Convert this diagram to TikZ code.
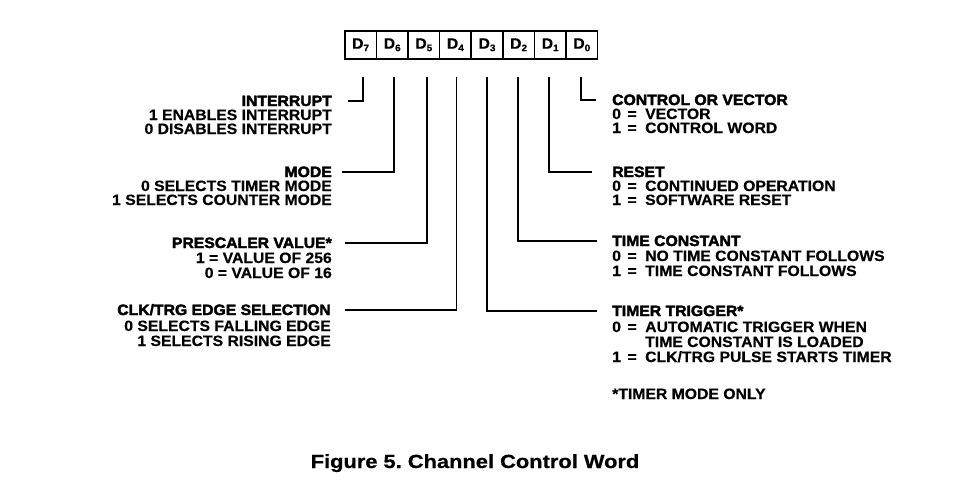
\documentclass[tikz,border=0pt]{standalone}
\usepackage{fontspec}
\setmainfont{Liberation Sans}
\frenchspacing
\newfontfamily\labfont{Liberation Sans}[UprightFont=* Bold, FakeStretch=1.05, FakeBold=0.4]
\newfontfamily\ttlfont{Liberation Sans}[UprightFont=* Bold, FakeStretch=1.05, FakeBold=2.5]
\newfontfamily\capfont{Liberation Sans}[UprightFont=* Bold, FakeStretch=1.15, FakeBold=0.6]
\newcommand\eqv[1]{\makebox[33pt][l]{#1\hspace{6.5pt}=}}
\newcommand\dsub[1]{D\raisebox{-2.5pt}{\fontsize{9.5}{9.5}\selectfont #1}}
\begin{document}
\begin{tikzpicture}[x=1pt,y=-1pt,
  cell/.style={draw, line width=1.6pt, minimum width=31.6pt, minimum height=28pt,
    inner sep=0pt, anchor=north west, font=\labfont\fontsize{15}{15}\selectfont},
  ttl/.style={inner sep=0pt, font=\ttlfont\fontsize{15}{15}\selectfont},
  lab/.style={inner sep=0pt, font=\labfont\fontsize{15}{15}\selectfont},
  wire/.style={line width=1.8pt}]
\useasboundingbox[fill=white] (0,0) rectangle (955,480);
% register
\node[cell] (c7) at (344,30) {\dsub{7}};
\node[cell] (c6) at (375.6,30) {\dsub{6}};
\node[cell] (c5) at (407.2,30) {\dsub{5}};
\node[cell] (c4) at (438.8,30) {\dsub{4}};
\node[cell] (c3) at (470.4,30) {\dsub{3}};
\node[cell] (c2) at (502.0,30) {\dsub{2}};
\node[cell] (c1) at (533.6,30) {\dsub{1}};
\node[cell] (c0) at (565.2,30) {\dsub{0}};
% left side
\node[ttl,anchor=base east] (tI) at (332,106) {INTERRUPT};
\node[lab,anchor=base east] (tI1) at (332,120) {1 ENABLES INTERRUPT};
\node[lab,anchor=base east] (tI2) at (332,134) {0 DISABLES INTERRUPT};
\node[ttl,anchor=base east] (tM) at (332,177) {MODE};
\node[lab,anchor=base east] (tM1) at (332,191) {0 SELECTS TIMER MODE};
\node[lab,anchor=base east] (tM2) at (332,205) {1 SELECTS COUNTER MODE};
\node[ttl,anchor=base east] (tP) at (332,248) {PRESCALER VALUE*};
\node[lab,anchor=base east] (tP1) at (332,263) {1 = VALUE OF 256};
\node[lab,anchor=base east] (tP2) at (332,278) {0 = VALUE OF 16};
\node[ttl,anchor=base east] (tC) at (331,315) {CLK/TRG EDGE SELECTION};
\node[lab,anchor=base east] (tC1) at (331,331) {0 SELECTS FALLING EDGE};
\node[lab,anchor=base east] (tC2) at (331,346) {1 SELECTS RISING EDGE};
% right side
\node[ttl,anchor=base west] (tV) at (612,105) {CONTROL OR VECTOR};
\node[lab,anchor=base west] (tV1) at (612,119) {\eqv{0}VECTOR};
\node[lab,anchor=base west] (tV2) at (612,133) {\eqv{1}CONTROL WORD};
\node[ttl,anchor=base west] (tR) at (612,177) {RESET};
\node[lab,anchor=base west] (tR1) at (612,191) {\eqv{0}CONTINUED OPERATION};
\node[lab,anchor=base west] (tR2) at (612,205) {\eqv{1}SOFTWARE RESET};
\node[ttl,anchor=base west] (tT) at (612,246) {TIME CONSTANT};
\node[lab,anchor=base west] (tT1) at (612,261) {\eqv{0}NO TIME CONSTANT FOLLOWS};
\node[lab,anchor=base west] (tT2) at (612,276) {\eqv{1}TIME CONSTANT FOLLOWS};
\node[ttl,anchor=base west] (tG) at (612,316) {TIMER TRIGGER*};
\node[lab,anchor=base west] (tG1) at (612,332) {\eqv{0}AUTOMATIC TRIGGER WHEN};
\node[lab,anchor=base west] (tG2) at (645,347) {TIME CONSTANT IS LOADED};
\node[lab,anchor=base west] (tG3) at (612,362) {\eqv{1}CLK/TRG PULSE STARTS TIMER};
\node[lab,anchor=base west] (tN) at (612,399) {*TIMER MODE ONLY};
% caption
\node[inner sep=0pt,anchor=base,font=\capfont\fontsize{19}{19}\selectfont] (cap) at (475,468) {Figure 5. Channel Control Word};
% connectors
\draw[wire] ([xshift=2pt,yshift=-17pt]c7.south) |- ([xshift=16pt]tI.east);
\draw[wire] ([xshift=2pt,yshift=-17pt]c6.south) |- ([xshift=10pt]tM.east);
\draw[wire] ([xshift=3pt,yshift=-17pt]c5.south) |- ([xshift=13pt]tP.east);
\draw[wire] ([xshift=1pt,yshift=-17pt]c4.south) |- ([xshift=14pt]tC.east);
\draw[wire] ([xshift=0pt,yshift=-17pt]c3.south) |- ([xshift=-15pt]tG.west);
\draw[wire] ([xshift=-1pt,yshift=-17pt]c2.south) |- ([xshift=-15pt]tT.west);
\draw[wire] ([xshift=-1pt,yshift=-17pt]c1.south) |- ([xshift=-20pt]tR.west);
\draw[wire] ([xshift=-1pt,yshift=-17pt]c0.south) |- ([xshift=-16pt]tV.west);
\end{tikzpicture}
\end{document}
